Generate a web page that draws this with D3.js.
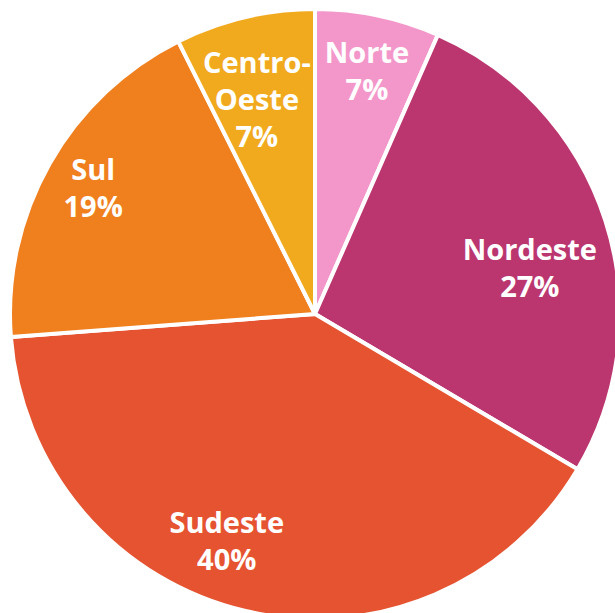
<!DOCTYPE html>
<html>
<head>
<meta charset="utf-8">
<script src="https://cdn.jsdelivr.net/npm/d3@7"></script>
<style>
  html, body { margin: 0; padding: 0; background: #fff; }
  svg { display: block; }
  .label { font-family: "Open Sans", sans-serif; font-weight: 700; fill: #fff; }
</style>
</head>
<body>
<svg id="chart" width="615" height="613"></svg>
<script>
// Regions, clockwise from 12 o'clock
const regions = ['Norte', 'Nordeste', 'Sudeste', 'Sul', 'Centro-Oeste'];
const shares = [6.6, 26.9, 40.3, 18.8, 7.4];
const pctLabels = ['7%', '27%', '40%', '19%', '7%'];
const nameLines = [['Norte'], ['Nordeste'], ['Sudeste'], ['Sul'], ['Centro-', 'Oeste']];
const colors = ['#f397cb', '#bb366f', '#e55331', '#f07f1e', '#f1aa1e'];

// label placement: polar position (degrees clockwise from top, fraction of radius)
const labelAngle = [12.1, 78, 201.2, 299.4, 344.8];
const labelRadius = [0.813, 0.72, 0.8, 0.835, 0.727];

const cx = 315;
const cy = 314;
const radius = 305;
const lineHeight = 37;

const svg = d3.select('#chart');
const g = svg.append('g').attr('transform', `translate(${cx},${cy})`);

const data = regions.map((name, i) => ({ name, value: shares[i], i }));

const pie = d3.pie().value((d) => d.value).sort(null);
const arc = d3.arc().innerRadius(0).outerRadius(radius);
const arcs = pie(data);

// Slices
g.append('g')
  .selectAll('path')
  .data(arcs)
  .enter()
  .append('path')
  .attr('d', arc)
  .attr('fill', (d) => colors[d.data.i])
  .attr('stroke', '#fff')
  .attr('stroke-width', 4)
  .attr('stroke-linejoin', 'round');

// Labels
const label = g
  .append('g')
  .selectAll('text')
  .data(arcs)
  .enter()
  .append('text')
  .attr('class', 'label')
  .attr('text-anchor', 'middle')
  .attr('font-size', 29)
  .attr('transform', (d) => {
    const a = (labelAngle[d.data.i] * Math.PI) / 180;
    const r = labelRadius[d.data.i] * radius;
    return `translate(${r * Math.sin(a)},${-r * Math.cos(a)})`;
  });

label.each(function (d) {
  const lines = nameLines[d.data.i].concat(pctLabels[d.data.i]);
  const top = -((lines.length - 1) * lineHeight) / 2 + 10;
  d3.select(this)
    .selectAll('tspan')
    .data(lines)
    .enter()
    .append('tspan')
    .attr('x', 0)
    .attr('y', (_t, j) => top + j * lineHeight)
    .text((t) => t);
});
</script>
</body>
</html>
